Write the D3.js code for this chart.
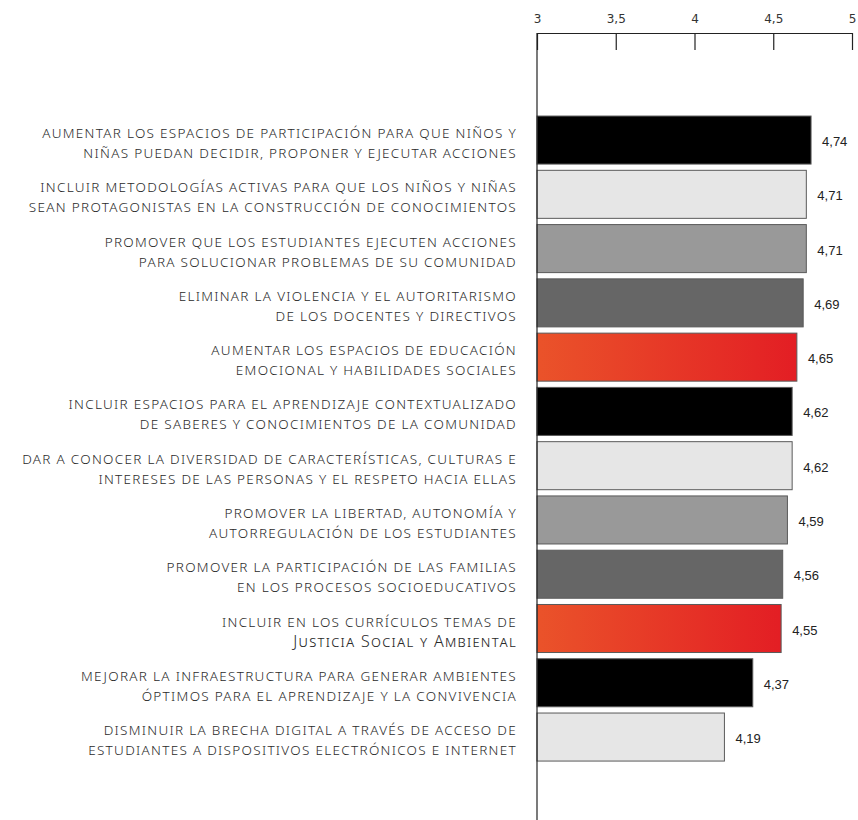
<!DOCTYPE html>
<html>
<head>
<meta charset="utf-8">
<script src="https://cdn.jsdelivr.net/npm/d3@7"></script>
<style>
  body { margin: 0; background: #fff; }
  .cat { font-family: "Noto Sans", sans-serif; font-weight: 300; font-size: 13.5px; fill: #2a2a2a; letter-spacing: 1.3px; }
  .val { font-family: "Liberation Sans", Arial, sans-serif; font-size: 13px; fill: #222; }
  .axis text { font-family: "DejaVu Sans", sans-serif; font-size: 12px; fill: #333; }
  .axis path, .axis line { stroke: #222; stroke-width: 1.2; }
</style>
</head>
<body>
<svg id="chart" width="858" height="820"></svg>
<script>
// Each category label is split in two lines, as in the original
const labelLine1 = [
  "AUMENTAR LOS ESPACIOS DE PARTICIPACIÓN PARA QUE NIÑOS Y",
  "INCLUIR METODOLOGÍAS ACTIVAS PARA QUE LOS NIÑOS Y NIÑAS",
  "PROMOVER QUE LOS ESTUDIANTES EJECUTEN ACCIONES",
  "ELIMINAR LA VIOLENCIA Y EL AUTORITARISMO",
  "AUMENTAR LOS ESPACIOS DE EDUCACIÓN",
  "INCLUIR ESPACIOS PARA EL APRENDIZAJE CONTEXTUALIZADO",
  "DAR A CONOCER LA DIVERSIDAD DE CARACTERÍSTICAS, CULTURAS E",
  "PROMOVER LA LIBERTAD, AUTONOMÍA Y",
  "PROMOVER LA PARTICIPACIÓN DE LAS FAMILIAS",
  "INCLUIR EN LOS CURRÍCULOS TEMAS DE",
  "MEJORAR LA INFRAESTRUCTURA PARA GENERAR AMBIENTES",
  "DISMINUIR LA BRECHA DIGITAL A TRAVÉS DE ACCESO DE"
];
const labelLine2 = [
  "NIÑAS PUEDAN DECIDIR, PROPONER Y EJECUTAR ACCIONES",
  "SEAN PROTAGONISTAS EN LA CONSTRUCCIÓN DE CONOCIMIENTOS",
  "PARA SOLUCIONAR PROBLEMAS DE SU COMUNIDAD",
  "DE LOS DOCENTES Y DIRECTIVOS",
  "EMOCIONAL Y HABILIDADES SOCIALES",
  "DE SABERES Y CONOCIMIENTOS DE LA COMUNIDAD",
  "INTERESES DE LAS PERSONAS Y EL RESPETO HACIA ELLAS",
  "AUTORREGULACIÓN DE LOS ESTUDIANTES",
  "EN LOS PROCESOS SOCIOEDUCATIVOS",
  "Justicia Social y Ambiental",
  "ÓPTIMOS PARA EL APRENDIZAJE Y LA CONVIVENCIA",
  "ESTUDIANTES A DISPOSITIVOS ELECTRÓNICOS E INTERNET"
];
const values = [4.74, 4.71, 4.71, 4.69, 4.65, 4.62, 4.62, 4.59, 4.56, 4.55, 4.37, 4.19];
const fillCycle = ["#000000", "#e6e6e6", "#999999", "#666666", "url(#redGrad)"];
const xTicks = [3, 3.5, 4, 4.5, 5];

const width = 858, height = 820;
const margin = { top: 33, left: 537, right: 6 };

const svg = d3.select("#chart");

const defs = svg.append("defs");
const grad = defs.append("linearGradient").attr("id", "redGrad")
  .attr("x1", "0%").attr("x2", "100%").attr("y1", "0%").attr("y2", "0%");
grad.append("stop").attr("offset", "0%").attr("stop-color", "#ea532a");
grad.append("stop").attr("offset", "100%").attr("stop-color", "#e31e24");

const x = d3.scaleLinear().domain([3, 5]).range([margin.left, width - margin.right]);
const y = d3.scaleBand()
  .domain(d3.range(values.length))
  .range([109.8, 767.3])
  .paddingInner(0.115)
  .paddingOuter(0.115);

// bars
svg.selectAll("rect.bar")
  .data(values)
  .join("rect")
  .attr("class", "bar")
  .attr("x", x(3))
  .attr("y", (d, i) => y(i))
  .attr("width", d => x(d) - x(3))
  .attr("height", y.bandwidth())
  .attr("fill", (d, i) => fillCycle[i % fillCycle.length])
  .attr("stroke", "#5a5a5a")
  .attr("stroke-width", 1);

// values
svg.selectAll("text.val")
  .data(values)
  .join("text")
  .attr("class", "val")
  .attr("x", d => x(d) + 11)
  .attr("y", (d, i) => y(i) + y.bandwidth() / 2 + 1.5)
  .attr("dy", "0.35em")
  .text(d => d3.format(".2f")(d).replace(".", ","));

// category labels
const isSmallCaps = s => s !== s.toUpperCase();
const cats = svg.selectAll("text.cat")
  .data(values)
  .join("text")
  .attr("class", "cat")
  .attr("text-anchor", "end")
  .attr("x", 517)
  .attr("y", (d, i) => y(i) + y.bandwidth() / 2);
cats.append("tspan").attr("x", 517).attr("dy", -2).text((d, i) => labelLine1[i]);
cats.append("tspan").attr("x", 517).attr("dy", 20)
  .style("font-variant", (d, i) => isSmallCaps(labelLine2[i]) ? "small-caps" : null)
  .style("font-size", (d, i) => isSmallCaps(labelLine2[i]) ? "16px" : null)
  .style("letter-spacing", (d, i) => isSmallCaps(labelLine2[i]) ? "1.3px" : null)
  .text((d, i) => labelLine2[i]);

// axis on top
const xAxis = d3.axisTop(x)
  .tickValues(xTicks)
  .tickFormat(d => String(d).replace(".", ","))
  .tickSizeInner(-17)
  .tickSizeOuter(0)
  .tickPadding(10);

svg.append("g")
  .attr("class", "axis")
  .attr("transform", `translate(0,${margin.top})`)
  .call(xAxis);

svg.append("line")
  .attr("x1", x(3)).attr("x2", x(3))
  .attr("y1", margin.top).attr("y2", height)
  .attr("stroke", "#222").attr("stroke-width", 1.2);
</script>
</body>
</html>
